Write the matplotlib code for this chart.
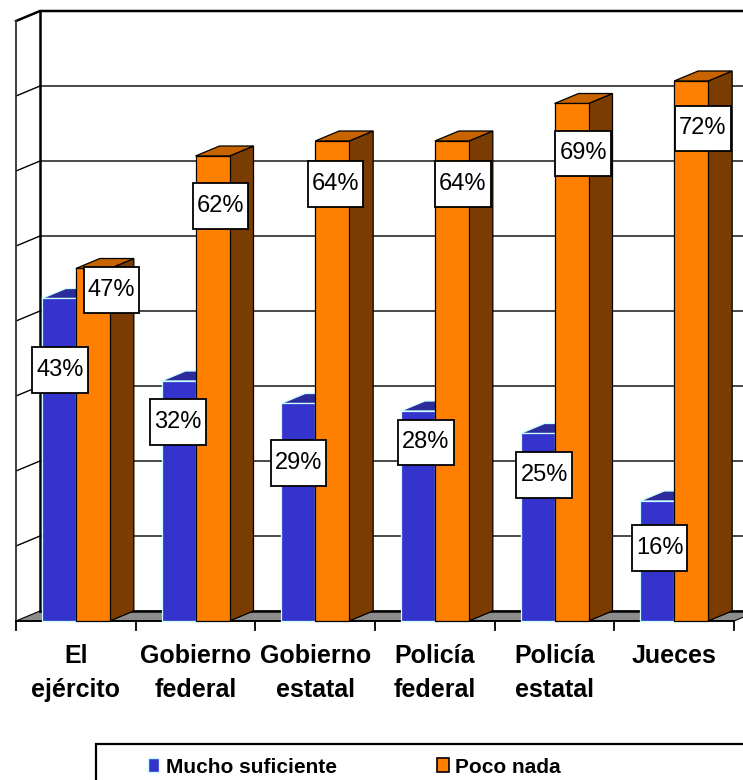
import matplotlib
matplotlib.use("Agg")
import matplotlib.pyplot as plt
from matplotlib.patches import Rectangle, Polygon
from matplotlib import font_manager

# ---------------- data ----------------
categories = ["El\nejército", "Gobierno\nfederal", "Gobierno\nestatal",
              "Policía\nfederal", "Policía\nestatal", "Jueces"]
mucho = [43, 32, 29, 28, 25, 16]
poco = [47, 62, 64, 64, 69, 72]
series_names = ["Mucho suficiente", "Poco nada"]
y_ticks = [0, 10, 20, 30, 40, 50, 60, 70, 80]

# ---------------- layout / style ----------------
W, H = 743, 780
X0, X1 = 16, 734      # front plane, pixels
Y0, Y1 = 621, 21
BLUE, BLUE_TOP, BLUE_SIDE, BLUE_EDGE = "#3434cc", "#2b2b9b", "#202080", "#ccffff"
ORANGE, ORANGE_TOP, ORANGE_SIDE = "#ff8000", "#c86400", "#7a3c00"
FLOOR = "#8c8c8c"

# label nudges (pixels, relative to front-top centre of each bar)
blue_nudge = [(1.2, 71.5), (-0.4, 41), (0.2, 59.5), (8.2, 31.5), (6.6, 41.5), (2.4, 47)]
orange_nudge = [(18.9, 21.5), (7.9, 50), (3.3, 43), (11.1, 43), (11.7, 50), (11.8, 47.5)]


def has_font(name):
    try:
        font_manager.findfont(font_manager.FontProperties(family=name),
                              fallback_to_default=False)
        return True
    except Exception:
        return False


BASE = "Liberation Sans" if has_font("Liberation Sans") else "DejaVu Sans"
if has_font("Liberation Sans Narrow"):
    LEG_FONT, LEG_SIZE = "Liberation Sans Narrow", 17.5
else:
    LEG_FONT, LEG_SIZE = BASE, 15.0

fig = plt.figure(figsize=(W / 100, H / 100), dpi=100)
fig.patch.set_facecolor("white")
ax = fig.add_axes([X0 / W, (H - Y0) / H, (X1 - X0) / W, (Y0 - Y1) / H])
n = len(categories)
ax.set_xlim(0, n)
ax.set_ylim(y_ticks[0], y_ticks[-1])
ax.axis("off")

pxx = (X1 - X0) / n
pxy = (Y0 - Y1) / (y_ticks[-1] - y_ticks[0])
DX = 24 / pxx
DY = 10 / pxy
TOP = y_ticks[-1]

# walls
ax.add_patch(Rectangle((DX, DY), n, TOP, fc="white", ec="none", zorder=0, clip_on=False))
ax.add_patch(Polygon([(0, 0), (0, TOP), (DX, TOP + DY), (DX, DY)], closed=True,
                     fc="white", ec="none", zorder=0, clip_on=False))
for v in y_ticks[1:-1]:
    ax.plot([0, DX, n + DX], [v, v + DY, v + DY], color="black", lw=1.0,
            zorder=1, clip_on=False, solid_capstyle="butt")
# floor
ax.add_patch(Polygon([(0, 0), (n, 0), (n + DX, DY), (DX, DY)], closed=True,
                     fc=FLOOR, ec="black", lw=0.8, zorder=1, clip_on=False))
ax.plot([DX, n + DX], [DY, DY], color="black", lw=1.8, zorder=1.5, clip_on=False)
ax.plot([DX, DX], [DY, TOP + DY], color="black", lw=1.8, zorder=1.5, clip_on=False)
ax.plot([0, DX, n + DX], [TOP, TOP + DY, TOP + DY], color="black", lw=1.8,
        zorder=1.5, clip_on=False)
ax.plot([0, 0], [0, TOP], color="#333333", lw=1.3, zorder=1.5, clip_on=False)
ax.plot([0, n], [0, 0], color="black", lw=1.3, zorder=1.5, clip_on=False)
for i in range(n + 1):
    ax.plot([i, i], [0, -9 / pxy], color="black", lw=1.3, zorder=1.5, clip_on=False)


def bar3d(x0, w, v, fc, tc, sc, ec, lw, z):
    ax.add_patch(Polygon([(x0 + w, 0), (x0 + w + DX, DY), (x0 + w + DX, v + DY), (x0 + w, v)],
                         closed=True, fc=sc, ec=ec, lw=lw, zorder=z, clip_on=False))
    ax.add_patch(Polygon([(x0, v), (x0 + DX, v + DY), (x0 + w + DX, v + DY), (x0 + w, v)],
                         closed=True, fc=tc, ec=ec, lw=lw, zorder=z, clip_on=False))
    ax.add_patch(Rectangle((x0, 0), w, v, fc=fc, ec=ec, lw=lw, zorder=z, clip_on=False))


BW = 34 / pxx
B_OFF = 0.5 - BW
for i in range(n):
    bar3d(i + B_OFF, BW, mucho[i], BLUE, BLUE_TOP, BLUE_SIDE, BLUE_EDGE, 0.9, 2 + i * 0.1)
    bar3d(i + 0.5, BW, poco[i], ORANGE, ORANGE_TOP, ORANGE_SIDE, "black", 0.9, 2.05 + i * 0.1)

# data labels
LBW, LBH = 55.5 / pxx, 45.5 / pxy


def label(xc, v, nudge):
    cx = xc + nudge[0] / pxx
    cy = v - nudge[1] / pxy
    ax.add_patch(Rectangle((cx - LBW / 2, cy - LBH / 2), LBW, LBH, fc="white",
                           ec="black", lw=1.3, zorder=10, clip_on=False))
    ax.text(cx, cy, f"{v}%", ha="center", va="center", fontsize=17,
            family=BASE, color="black", zorder=11)


for i in range(n):
    label(i + B_OFF + BW / 2, mucho[i], blue_nudge[i])
    label(i + 0.5 + BW / 2, poco[i], orange_nudge[i])

# overlay in pixel coordinates for category labels and legend
ov = fig.add_axes([0, 0, 1, 1])
ov.set_xlim(0, W)
ov.set_ylim(H, 0)
ov.axis("off")
for i, cat in enumerate(categories):
    cx = X0 + (i + 0.5) * pxx
    for j, line in enumerate(cat.split("\n")):
        ov.text(cx, 663.3 + j * 33.4, line, ha="center", va="baseline",
                fontsize=18, fontweight="bold", family=BASE, color="black")

ov.add_patch(Rectangle((96, 744), 700, 100, fc="white", ec="black", lw=1.6, clip_on=False))
ov.add_patch(Rectangle((148, 758), 11, 14, fc=BLUE, ec=BLUE_EDGE, lw=1.0))
ov.text(166, 773, series_names[0], ha="left", va="baseline", fontsize=LEG_SIZE,
        fontweight="bold", family=LEG_FONT, color="black")
ov.add_patch(Rectangle((437, 758), 12, 14, fc=ORANGE, ec="black", lw=1.2))
ov.text(455, 773, series_names[1], ha="left", va="baseline", fontsize=LEG_SIZE,
        fontweight="bold", family=LEG_FONT, color="black")

fig.savefig("out.png", dpi=100)
